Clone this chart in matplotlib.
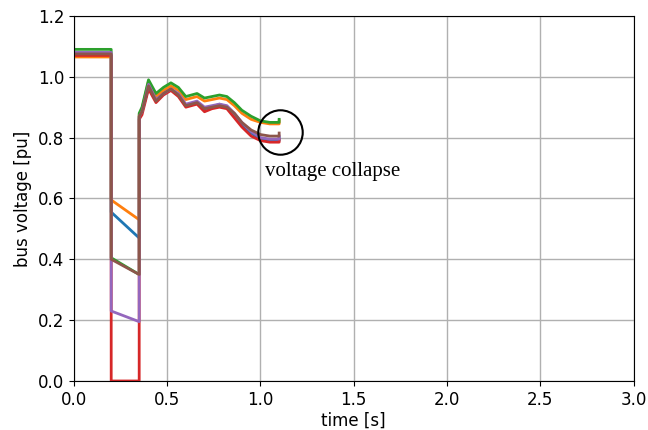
import matplotlib
matplotlib.use("Agg")
import matplotlib.pyplot as plt

time = [0, 0.2, 0.2, 0.35, 0.35, 0.365, 0.40, 0.44, 0.48, 0.52, 0.56, 0.60, 0.63, 0.66,
        0.70, 0.74, 0.78, 0.82, 0.86, 0.90, 0.95, 1.00, 1.05, 1.10, 1.10]

v_blue = [1.07, 1.07, 0.555, 0.47, 0.865, 0.885, 0.965, 0.925, 0.945, 0.96, 0.94, 0.905, 0.91, 0.915,
          0.895, 0.90, 0.91, 0.90, 0.875, 0.845, 0.815, 0.795, 0.79, 0.79, 0.80]
v_orange = [1.065, 1.065, 0.595, 0.53, 0.875, 0.895, 0.985, 0.935, 0.955, 0.97, 0.955, 0.925, 0.93, 0.935,
            0.92, 0.925, 0.93, 0.925, 0.905, 0.88, 0.86, 0.85, 0.845, 0.845, 0.855]
v_green = [1.09, 1.09, 0.405, 0.35, 0.88, 0.90, 0.99, 0.945, 0.965, 0.98, 0.965, 0.935, 0.94, 0.945,
           0.93, 0.935, 0.94, 0.935, 0.915, 0.89, 0.87, 0.855, 0.85, 0.85, 0.86]
v_red = [1.07, 1.07, 0.0, 0.0, 0.86, 0.875, 0.96, 0.915, 0.94, 0.955, 0.935, 0.90, 0.905, 0.91,
         0.885, 0.895, 0.90, 0.895, 0.865, 0.835, 0.805, 0.79, 0.785, 0.785, 0.795]
v_purple = [1.08, 1.08, 0.23, 0.195, 0.87, 0.885, 0.975, 0.925, 0.945, 0.96, 0.945, 0.91, 0.915, 0.92,
            0.90, 0.905, 0.91, 0.905, 0.88, 0.85, 0.82, 0.80, 0.795, 0.795, 0.805]
v_brown = [1.075, 1.075, 0.40, 0.35, 0.87, 0.885, 0.97, 0.92, 0.945, 0.96, 0.94, 0.905, 0.91, 0.915,
           0.895, 0.90, 0.905, 0.90, 0.88, 0.85, 0.825, 0.81, 0.805, 0.805, 0.815]

series = [v_blue, v_orange, v_green, v_red, v_purple, v_brown]
colors = ["#1f77b4", "#ff7f0e", "#2ca02c", "#d62728", "#9467bd", "#8c564b"]

collapse_t = 1.103
collapse_v = 0.82
annotation = "voltage collapse"

fig = plt.figure(figsize=(6.48, 4.30), dpi=100)
ax = fig.add_axes([0.114, 0.114, 0.864, 0.849])

for v, c in zip(series, colors):
    ax.plot(time, v, color=c, lw=2)

ax.plot([collapse_t], [collapse_v], marker="o", markersize=32, markerfacecolor="none",
        markeredgecolor="black", markeredgewidth=1.5, linestyle="none")
ax.text(1.025, 0.688, annotation, fontsize=15, family="Liberation Serif", va="center", ha="left")

ax.set_xlim(0, 3)
ax.set_ylim(0, 1.2)
ax.set_xticks([0, 0.5, 1.0, 1.5, 2.0, 2.5, 3.0])
ax.set_yticks([0, 0.2, 0.4, 0.6, 0.8, 1.0, 1.2])
ax.grid(True, color="#b0b0b0", lw=1)
ax.tick_params(labelsize=12)
ax.set_xlabel("time [s]", fontsize=12, labelpad=2)
ax.set_ylabel("bus voltage [pu]", fontsize=12)

fig.savefig("out.png", dpi=100)
